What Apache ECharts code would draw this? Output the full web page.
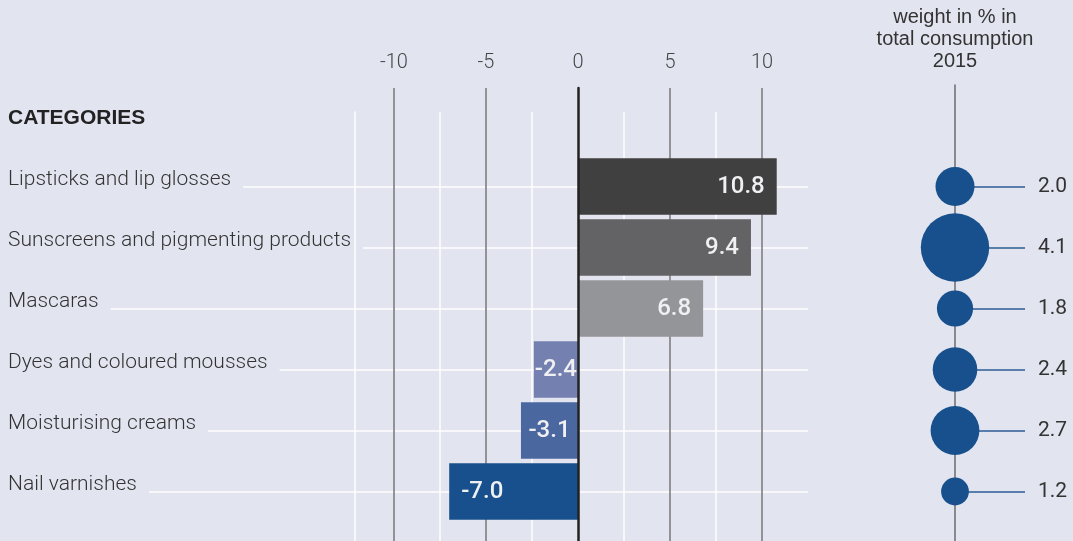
<!DOCTYPE html>
<html><head><meta charset="utf-8">
<script src="https://cdn.jsdelivr.net/npm/echarts@6/dist/echarts.min.js"></script>
<style>html,body{margin:0;padding:0;background:#e2e4f0}#c{width:1073px;height:541px}</style>
</head><body><div id="c"></div>
<script>
// ---- data ----
const categories = ['Lipsticks and lip glosses', 'Sunscreens and pigmenting products', 'Mascaras',
  'Dyes and coloured mousses', 'Moisturising creams', 'Nail varnishes'];
const changes = [10.8, 9.4, 6.8, -2.4, -3.1, -7.0];
const weights = [2.0, 4.1, 1.8, 2.4, 2.7, 1.2];
const xTicks = [-10, -5, 0, 5, 10];
const minorStep = 2.5;
const headerText = 'CATEGORIES';
const weightHeader = 'weight in % in\ntotal consumption\n2015';

// ---- style ----
const BG = '#e2e4f0';
const FONT = 'Roboto, "Liberation Sans", sans-serif';
const FONT_LIGHT = '"Roboto Light", Roboto, "Liberation Sans", sans-serif';
const HELV = '"Liberation Sans", Arial, sans-serif';
const barColors = ['#404040', '#636365', '#949599', '#7480b0', '#4b67a0', '#17508c'];
const SL = 394, SR = 1073 - 762;     // x scale grid (-10 .. 10)
const RT = 156, RB = 19;             // band grid
const PT = 186.5, PB = 49.5;         // point grid (band centres)

const chart = echarts.init(document.getElementById('c'), null, {renderer: 'canvas'});
const none = {show: false};
const G = o => Object.assign({outerBoundsMode: 'none', containLabel: false}, o);

const option = {
  backgroundColor: BG,
  animation: false,
  grid: [
    G({left: SL, right: SR, top: RT, bottom: RB}),          // 0 bars
    G({left: SL, right: SR, top: 112, bottom: 0}),          // 1 minor white lines
    G({left: SL, right: SR, top: 88, bottom: 0}),           // 2 major lines + labels
    G({left: 355, width: 10, top: 112, bottom: 0}),         // 3 left border
    G({left: 0, right: 265, top: PT, bottom: PB}),          // 4 horizontal row lines
    G({left: 955, right: 48, top: PT, bottom: PB}),         // 5 bubble connectors + labels
    G({left: 955, width: 10, top: 85, bottom: 0}),          // 6 bubble vertical line
    G({left: 578, width: 10, top: 88, bottom: 0})           // 7 zero line
  ],
  xAxis: [
    {gridIndex: 0, type: 'value', min: xTicks[0], max: xTicks[xTicks.length - 1], show: false},
    {gridIndex: 1, type: 'value', min: xTicks[0], max: xTicks[xTicks.length - 1], interval: minorStep, z: 0,
      axisLine: none, axisTick: none, axisLabel: none,
      splitLine: {show: true, lineStyle: {color: ['rgba(0,0,0,0)', '#ffffff'], width: 1.5}}},
    {gridIndex: 2, type: 'value', position: 'top', min: xTicks[0], max: xTicks[xTicks.length - 1],
      interval: xTicks[1] - xTicks[0], z: 1,
      axisLine: none, axisTick: none,
      axisLabel: {show: true, margin: 16, fontSize: 20, color: '#444', fontWeight: 300, fontFamily: FONT_LIGHT},
      splitLine: {show: true, lineStyle: {color: ['#77777a', '#77777a', 'rgba(0,0,0,0)', '#77777a', '#77777a'], width: 1.5}}},
    {gridIndex: 3, type: 'value', min: 0, max: 1, show: false},
    {gridIndex: 4, type: 'value', min: 0, max: 1, show: false},
    {gridIndex: 5, type: 'value', min: 0, max: 1, show: false},
    {gridIndex: 6, type: 'value', min: 0, max: 1, show: false},
    {gridIndex: 7, type: 'value', min: 0, max: 1, show: false}
  ],
  yAxis: [
    {gridIndex: 0, type: 'category', data: categories, inverse: true, z: 3,
      axisLine: none, axisTick: none, splitLine: none,
      axisLabel: {show: true, interval: 0, margin: SL, align: 'left', fontSize: 21, color: '#333',
        fontWeight: 300, fontFamily: FONT_LIGHT, backgroundColor: BG, padding: [0, 12, 0, 8],
        lineHeight: 15, formatter: v => v + '\n '}},
    {gridIndex: 1, type: 'value', show: false},
    {gridIndex: 2, type: 'value', show: false},
    {gridIndex: 3, type: 'value', z: 5, axisLine: {show: true, onZero: false, lineStyle: {color: '#ffffff', width: 1.5}},
      axisTick: none, axisLabel: none, splitLine: none},
    {gridIndex: 4, type: 'category', data: categories, inverse: true, boundaryGap: false, z: 0,
      axisLine: none, axisTick: {show: false, interval: 0}, axisLabel: {show: false, interval: 0},
      splitLine: {show: true, interval: 0, lineStyle: {color: '#ffffff', width: 1.5}}},
    {gridIndex: 5, type: 'category', data: categories, inverse: true, boundaryGap: false, position: 'right', z: 0,
      axisLine: none, axisTick: {show: false, interval: 0},
      axisLabel: {show: true, interval: 0, margin: 13, fontSize: 21, color: '#333', fontFamily: FONT,
        formatter: (v, i) => weights[i].toFixed(1)},
      splitLine: {show: true, interval: 0, lineStyle: {color: '#2d5c96', width: 1.5}}},
    {gridIndex: 6, type: 'value', z: 0, axisLine: {show: true, onZero: false, lineStyle: {color: '#6b6b6e', width: 1.5}},
      axisTick: none, axisLabel: none, splitLine: none},
    {gridIndex: 7, type: 'value', z: 4, axisLine: {show: true, onZero: false, lineStyle: {color: '#222222', width: 2.5}},
      axisTick: none, axisLabel: none, splitLine: none}
  ],
  graphic: [
    {type: 'text', left: 8, top: 108, z: 10,
      style: {text: headerText, fill: '#222', font: 'bold 21px ' + HELV}},
    {type: 'text', x: 955, y: 6, z: 10,
      style: {text: weightHeader, fill: '#333', font: '20px ' + HELV, align: 'center', lineHeight: 22}}
  ],
  series: [
    {type: 'bar', xAxisIndex: 0, yAxisIndex: 0, barCategoryGap: '7%', clip: false, z: 2,
      data: changes.map((v, i) => ({
        value: v,
        itemStyle: {color: barColors[i]},
        label: {position: v >= 0 ? 'insideRight' : (v < -5 ? 'insideLeft' : 'inside')}
      })),
      label: {show: true, color: '#f0f0f2', fontSize: 24, fontWeight: 500, fontFamily: FONT, distance: 12,
        formatter: p => p.value.toFixed(1)}},
    {type: 'scatter', xAxisIndex: 5, yAxisIndex: 5, z: 3,
      data: weights.map((w, i) => [0, categories[i], w]),
      symbolSize: v => 14 * v[2] + 11,
      itemStyle: {color: '#17508c', opacity: 1}}
  ]
};
chart.setOption(option);
</script>
</body></html>
